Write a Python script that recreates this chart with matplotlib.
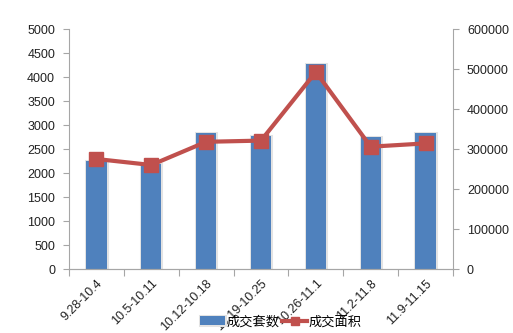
import numpy as np
import matplotlib.pyplot as plt
import matplotlib.patheffects as pe

plt.rcParams['font.family'] = ['Liberation Sans', 'Noto Sans CJK SC']

weeks = ["9.28-10.4", "10.5-10.11", "10.12-10.18", "10.19-10.25",
         "10.26-11.1", "11.2-11.8", "11.9-11.15"]
units = [2250, 2180, 2840, 2770, 4265, 2757, 2826]
area = [275000, 260000, 318000, 321000, 492500, 305800, 314000]

blue = "#4F81BD"
red = "#C0504D"
grey = "#A6A6A6"

fig = plt.figure(figsize=(5.13, 3.33), dpi=100)
ax = fig.add_axes([69 / 513, 64 / 333, 384 / 513, 240 / 333])
ax2 = ax.twinx()

x = np.arange(len(weeks))
bars = ax.bar(x, units, width=0.37, color=blue, zorder=2, label="成交套数")
# soft light outline round each bar
for b in bars:
    b.set_path_effects([pe.withStroke(linewidth=2.2, foreground="#E3E3E3"), pe.Normal()])

ax2.plot(x, area, color=red, lw=3, marker="s", ms=10, mec=red, mfc=red,
         label="成交面积", zorder=3)

ax.set_xlim(-0.5, len(weeks) - 0.5)
ax.set_ylim(0, 5000)
ax.set_yticks(np.arange(0, 5001, 500))
ax2.set_ylim(0, 600000)
ax2.set_yticks(np.arange(0, 600001, 100000))

# category boundaries get the tick marks, labels sit at the bar centres
ax.set_xticks(np.arange(-0.5, len(weeks), 1.0))
ax.set_xticklabels([])
ax.set_xticks(x, minor=True)
ax.set_xticklabels(weeks, minor=True, rotation=45, ha="right", rotation_mode="anchor")
ax.tick_params(axis="x", which="minor", length=0, pad=6, labelsize=9, colors="#222222")
ax.tick_params(axis="x", which="major", length=5, color=grey, direction="out")

for a in (ax, ax2):
    a.spines["top"].set_visible(False)
    for s in ("left", "right", "bottom"):
        a.spines[s].set_color(grey)
    a.tick_params(axis="y", length=4, color=grey, labelsize=9, labelcolor="#222222")
ax.spines["right"].set_visible(False)
ax2.spines["left"].set_visible(False)
ax.tick_params(axis="y", pad=6)
ax2.tick_params(axis="y", pad=6)

h1, l1 = ax.get_legend_handles_labels()
h2, l2 = ax2.get_legend_handles_labels()
fig.legend(h1 + h2, l1 + l2, loc="center", bbox_to_anchor=(281 / 513, 11 / 333),
           ncol=2, frameon=False, fontsize=9.5, handlelength=1.9, markerscale=0.6,
           handletextpad=0.1, columnspacing=0.2)

fig.savefig("out.png", dpi=100)
